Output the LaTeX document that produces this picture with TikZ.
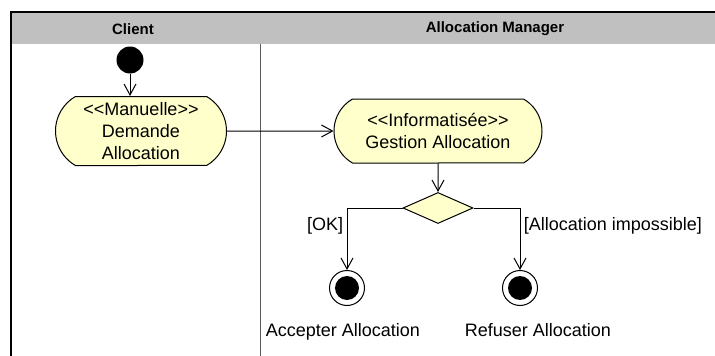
\documentclass[tikz,border=0pt]{standalone}
\usepackage{fontspec}
\setmainfont{Liberation Sans}
\usetikzlibrary{positioning,shapes.misc,shapes.geometric,arrows.meta}

\definecolor{lanegray}{HTML}{C0C0C0}
\definecolor{actyellow}{HTML}{FFFFCC}
\newcommand{\stereo}[1]{<\kern0pt<#1>\kern0pt>}

\begin{document}
\begin{tikzpicture}[x=1pt,y=1pt,line width=1pt,
  action/.style={rounded rectangle,rounded rectangle arc length=120,draw,fill=actyellow,
    align=center,inner sep=1pt,font=\fontsize{18}{22}\selectfont},
  flow/.style={-{Straight Barb[length=11pt,width=12pt,line width=1pt]}},
  initial/.style={circle,fill=black,minimum size=27pt,inner sep=0pt},
  final/.style={circle,draw,fill=white,minimum size=35pt,inner sep=0pt,
    path picture={\fill[black] (path picture bounding box.center) circle (12pt);}},
  decision/.style={diamond,draw,fill=actyellow,minimum width=70pt,minimum height=31pt,inner sep=0pt},
  lanehead/.style={font=\bfseries\fontsize{15}{18}\selectfont},
  guard/.style={font=\fontsize{18}{20}\selectfont}]
  \useasboundingbox (0,0) rectangle (715,-356);
  % swimlanes
  \fill[lanegray] (11,-12) rectangle (715,-44);
  \draw[line width=2.5pt] (11,-356) -- (11,-12) -- (715,-12);
  \draw[gray!70!black] (260,-44) -- (260,-356);
  \node[lanehead] (client) at (133,-29) {Client};
  \node[lanehead] (manager) at (495,-29) {Allocation Manager};
  % activities
  \node[initial] (init) at (130,-60) {};
  \node[action,minimum width=173pt,minimum height=69pt] (demande) at (141,-131)
    {\stereo{Manuelle}\\Demande\\Allocation};
  \node[action,minimum width=210pt,minimum height=64pt] (gestion) at (438,-131)
    {\stereo{Informatisée}\\Gestion Allocation};
  \node[decision] (choix) at (438,-208) {};
  \node[final] (accepter) at (347,-288) {};
  \node[final] (refuser) at (520,-288) {};
  \node[guard,below=14pt of accepter,xshift=-4pt] (acclabel) {Accepter Allocation};
  \node[guard,below=14pt of refuser,xshift=18pt] (reflabel) {Refuser Allocation};
  % transitions
  \draw[flow] (init) -- (init |- demande.north);
  \draw[flow] (demande) -- (gestion);
  \draw[flow] (gestion) -- (choix);
  \draw[flow] (choix.west) -| node[guard,pos=0.64,left] {[OK]} (accepter);
  \draw[flow] (choix.east) -| node[guard,pos=0.64,right] {[Allocation impossible]} (refuser);
\end{tikzpicture}
\end{document}
